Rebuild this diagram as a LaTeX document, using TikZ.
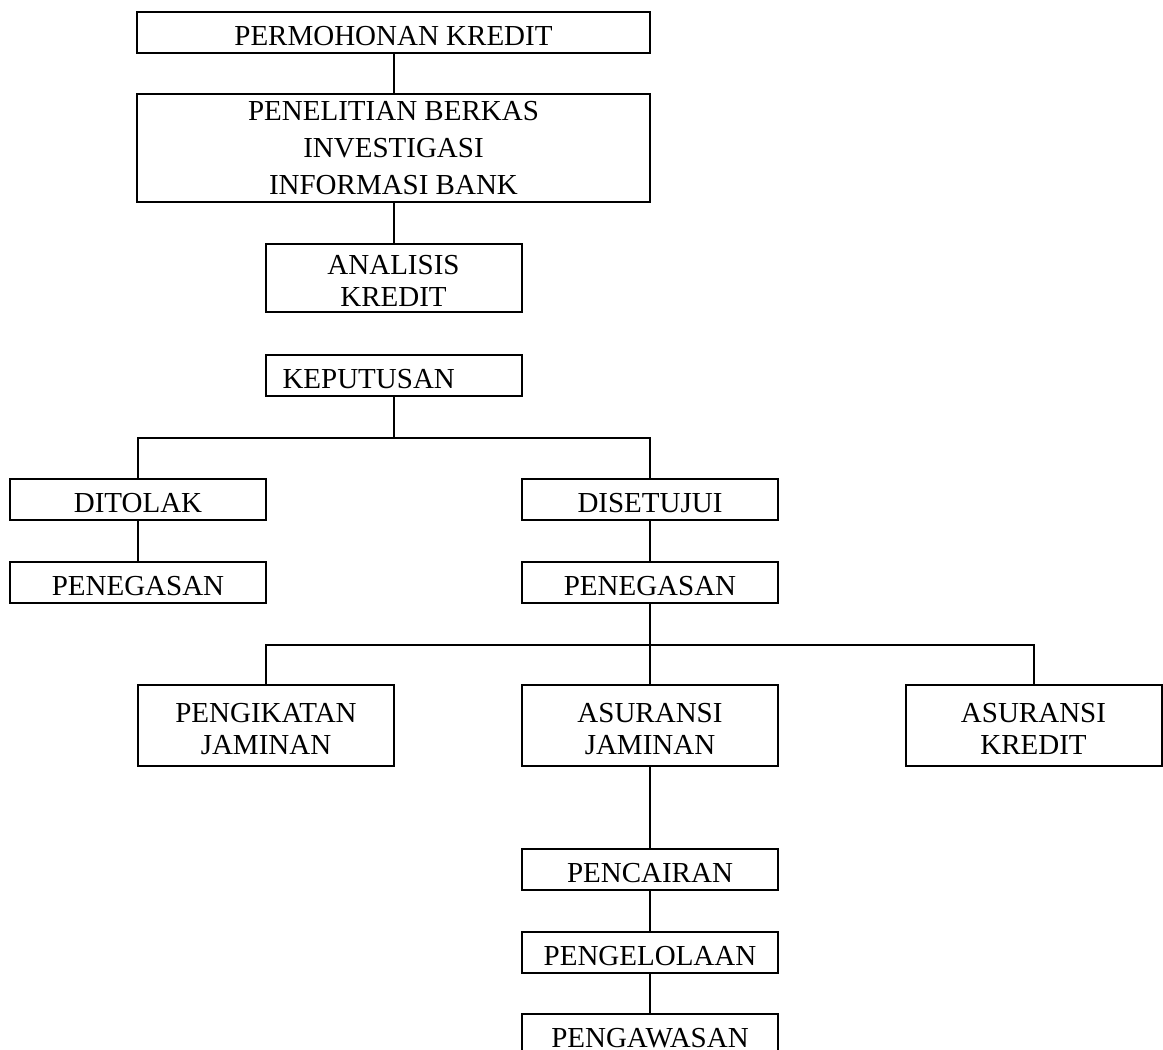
\documentclass[tikz,border=0pt]{standalone}
\usepackage{fontspec}
\setmainfont{Liberation Serif}
\usepackage{tikz}
\usetikzlibrary{positioning}

\begin{document}
\begin{tikzpicture}[
  x=0.5pt, y=-0.5pt, line width=1pt,
  font=\fontsize{14.5}{16}\selectfont,
  box/.style  ={draw, inner sep=0pt, outer sep=0pt, minimum width=128pt, minimum height=20.5pt, align=center,
                text height=13.1pt, text depth=0pt},
  wide/.style ={box, minimum width=256.5pt},
  tall/.style ={box, minimum height=40.5pt, text height=29.1pt},
  link/.style ={draw, line width=1pt},
]
\useasboundingbox (0,0) rectangle (1163,1050);

% -- pengajuan sampai keputusan --
\node[wide] (perm) at (393.5,32.5) {PERMOHONAN KREDIT};
\node[wide, minimum height=54pt, below=20.5pt of perm, text height=46.6pt,
      font=\fontsize{14.5}{18.5}\selectfont] (teliti)
  {PENELITIAN BERKAS\\INVESTIGASI\\INFORMASI BANK};
\node[tall, minimum height=33.75pt, below=21pt of teliti] (analisis) {ANALISIS\\KREDIT};
\node[box, text width=111pt, inner xsep=8.5pt, align=left, below=21.75pt of analisis] (putus) {KEPUTUSAN};

% -- ditolak / disetujui --
\node[box] (tolak) at (138,499) {DITOLAK};
\node[box, below=21pt of tolak] (tegas1) {PENEGASAN};
\node[box] (setuju) at (650,499) {DISETUJUI};
\node[box, below=21pt of setuju] (tegas2) {PENEGASAN};

% -- jaminan --
\node[tall] (ikat) at (266,725) {PENGIKATAN\\JAMINAN};
\node[tall] (asjam) at (650,725) {ASURANSI\\JAMINAN};
\node[tall] (askre) at (1033.5,725) {ASURANSI\\KREDIT};

% -- tindak lanjut --
\node[box, below=41.5pt of asjam] (cair) {PENCAIRAN};
\node[box, below=21pt of cair] (kelola) {PENGELOLAAN};
\node[box, below=20.5pt of kelola] (awas) {PENGAWASAN};

% -- garis penghubung --
\draw[link] (perm) -- (teliti);
\draw[link] (teliti) -- (analisis);

\path (putus.south) ++(0,41.5) coordinate (bagi1);
\draw[link] (putus) -- (bagi1);
\draw[link] (bagi1) -| (tolak);
\draw[link] (bagi1) -| (setuju);
\draw[link] (tolak) -- (tegas1);
\draw[link] (setuju) -- (tegas2);

\path (tegas2.south) ++(0,42) coordinate (bagi2);
\draw[link] (tegas2) -- (bagi2);
\draw[link] (bagi2) -| (ikat);
\draw[link] (bagi2) -- (asjam);
\draw[link] (bagi2) -| (askre);

\draw[link] (asjam) -- (cair);
\draw[link] (cair) -- (kelola);
\draw[link] (kelola) -- (awas);

\end{tikzpicture}
\end{document}
